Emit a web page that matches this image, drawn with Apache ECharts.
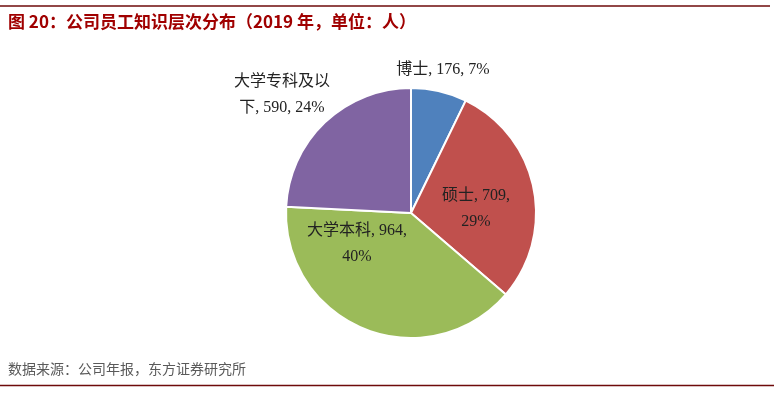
<!DOCTYPE html>
<html><head><meta charset="utf-8">
<script src="https://cdn.jsdelivr.net/npm/echarts@6/dist/echarts.min.js"></script>
<style>html,body{margin:0;padding:0;background:#fff}#c{width:774px;height:398px}</style>
</head><body><div id="c"></div>
<script>
var categories = ['博士', '硕士', '大学本科', '大学专科及以下'];
var values = [176, 709, 964, 590];
var colors = ['#4F81BD', '#C0504D', '#9BBB59', '#8064A2'];
var titleText = '图 20：公司员工知识层次分布（2019 年，单位：人）';
var sourceText = '数据来源：公司年报，东方证券研究所';

var labelPos = [[443, 70], [476, 209], [357, 244], [282, 95]];

var chart = echarts.init(document.getElementById('c'));
chart.setOption({
  animation: false,
  backgroundColor: '#fff',
  graphic: [
    {type: 'line', shape: {x1: 0, y1: 6, x2: 770, y2: 6}, style: {stroke: '#6E0A0A', lineWidth: 1.5}},
    {type: 'line', shape: {x1: 0, y1: 385.5, x2: 774, y2: 385.5}, style: {stroke: '#6E0A0A', lineWidth: 1.5}},
    {type: 'text', left: 8, top: 13, style: {text: titleText, fill: '#A00000', font: 'bold 17px "Noto Sans CJK SC", sans-serif'}},
    {type: 'text', left: 8, top: 362, style: {text: sourceText, fill: '#5a5a5a', font: '14px "Noto Sans CJK SC", sans-serif'}}
  ],
  series: [{
    type: 'pie',
    center: [411, 213],
    radius: [0, 125],
    startAngle: 90,
    clockwise: true,
    percentPrecision: 0,
    data: categories.map(function (n, i) {
      return {name: n, value: values[i], itemStyle: {color: colors[i]}};
    }),
    itemStyle: {borderColor: '#fff', borderWidth: 2},
    label: {
      show: true,
      position: 'inside',
      color: '#222',
      fontSize: 16,
      lineHeight: 26,
      fontFamily: '"Liberation Serif", "Noto Sans CJK SC", serif',
      formatter: function (p) {
        var t;
        if (p.dataIndex === 0) t = p.name + ', ' + p.value + ', ' + p.percent + '%';
        else if (p.dataIndex === 3) t = '大学专科及以\n下, ' + p.value + ', ' + p.percent + '%';
        else t = p.name + ', ' + p.value + ',\n' + p.percent + '%';
        return t;
      }
    },
    labelLine: {show: false},
    labelLayout: function (params) {
      var pos = labelPos[params.dataIndex];
      return {x: pos[0], y: pos[1], align: 'center', verticalAlign: 'middle'};
    },
    emphasis: {disabled: true}
  }]
});
</script></body></html>
